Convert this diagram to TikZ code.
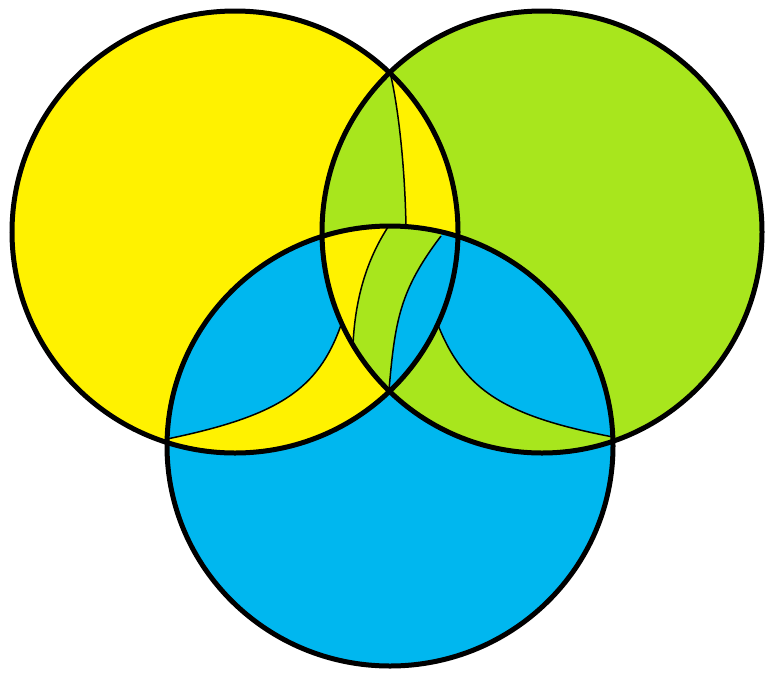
\documentclass[tikz,border=0pt]{standalone}
\usepackage{tikz}
\definecolor{gelb}{HTML}{FFF200}
\definecolor{gruen}{HTML}{A8E61D}
\definecolor{blau}{HTML}{00B7EF}

% Kreise (leicht elliptisch, wie im Original)
\def\kreisG{(235,232) ellipse [x radius=223, y radius=221]}
\def\kreisR{(542,232) ellipse [x radius=220, y radius=221]}
\def\kreisB{(390,446) ellipse [x radius=223, y radius=220]}

% feine Trennlinien
\def\linieO{(390,72) .. controls (399,110) and (405,170) .. (406,227)}
\def\linieL{(167,439) .. controls (278,416) and (318,390) .. (341,325)}
\def\linieR{(613,437) .. controls (504,416) and (464,390) .. (438,325)}
\def\linieA{(388,227) .. controls (366,261) and (355,300) .. (353,345)}
\def\linieB{(441,236) .. controls (400,290) and (395,320) .. (389,390)}

\begin{document}
\begin{tikzpicture}[
        x=1pt, y=-1pt,
        rand/.style={line width=5pt, black},
        fein/.style={line width=1.5pt, black},
      ]
      \useasboundingbox (0,0) rectangle (765,673);

      % Grundflaechen
      \fill[gelb] \kreisG;
      \fill[gruen] \kreisR;

      % gelb/gruen oben: rechts der Linie gelb
      \begin{scope}
        \clip \kreisG;
        \clip \kreisR;
        \fill[gelb] \linieO -- (406,260) -- (480,260) -- (480,40) -- (390,40) -- cycle;
      \end{scope}

      \fill[blau] \kreisB;

      % gelb/blau links: unten gelb
      \begin{scope}
        \clip \kreisG;
        \clip \kreisB;
        \fill[gelb] \linieL -- (480,325) -- (480,480) -- (150,480) -- (150,439) -- cycle;
      \end{scope}

      % gruen/blau rechts: unten gruen
      \begin{scope}
        \clip \kreisR;
        \clip \kreisB;
        \fill[gruen] \linieR -- (300,325) -- (300,480) -- (630,480) -- (630,437) -- cycle;
      \end{scope}

      % Mitte: gelb | gruen | blau
      \begin{scope}
        \clip \kreisG;
        \clip \kreisR;
        \clip \kreisB;
        \fill[gelb] (300,200) rectangle (480,420);
        \fill[gruen] \linieA -- (340,420) -- (480,420) -- (480,210) -- (388,210) -- cycle;
        \fill[blau] \linieB -- (389,420) -- (480,420) -- (480,210) -- (441,210) -- cycle;
      \end{scope}

      % Linien
      \draw[fein] \linieO;
      \draw[fein] \linieL;
      \draw[fein] \linieR;
      \draw[fein] \linieA;
      \draw[fein] \linieB;
      \draw[rand] \kreisG;
      \draw[rand] \kreisR;
      \draw[rand] \kreisB;
    \end{tikzpicture}
\end{document}
